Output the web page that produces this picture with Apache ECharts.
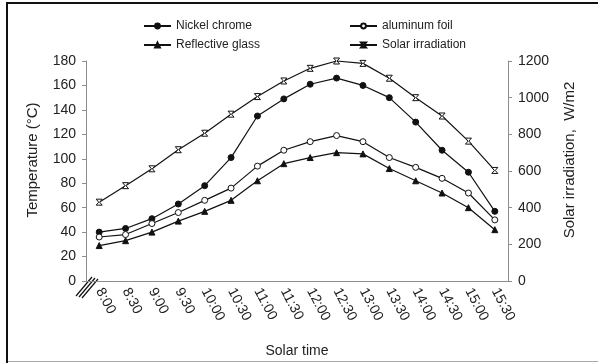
<!DOCTYPE html>
<html>
<head>
<meta charset="utf-8">
<script src="https://cdn.jsdelivr.net/npm/echarts@6/dist/echarts.min.js"></script>
<style>
  html, body { margin: 0; padding: 0; background: #fff; }
  #chart { width: 598px; height: 363px; }
</style>
</head>
<body>
<div id="chart"></div>
<script>
var times = ["8:00", "8:30", "9:00", "9:30", "10:00", "10:30", "11:00", "11:30",
  "12:00", "12:30", "13:00", "13:30", "14:00", "14:30", "15:00", "15:30"];
var nickelChrome = [40, 43, 51, 63, 78, 101, 135, 149, 161, 166, 160, 150, 130, 107, 89, 57];
var aluminumFoil = [36, 38, 47, 56, 66, 76, 94, 107, 114, 119, 114, 101, 93, 84, 72, 50];
var reflectiveGlass = [29, 33, 40, 49, 57, 66, 82, 96, 101, 105, 104, 92, 82, 72, 60, 42];
var solarIrradiation = [430, 520, 612, 716, 806, 910, 1006, 1091, 1160, 1200, 1187, 1106, 1000, 900, 763, 603];

var font = "Liberation Sans";
var axisGrey = "#8c8c8c";
var textCol = "#222";

var chart = echarts.init(document.getElementById("chart"));

function lineSeries(name, data, symbol, fill, yIndex) {
  return {
    name: name,
    type: "line",
    yAxisIndex: yIndex || 0,
    data: data,
    symbol: symbol,
    symbolSize: 6,
    showAllSymbol: true,
    clip: false,
    animation: false,
    lineStyle: { color: "#111", width: 1.2 },
    itemStyle: { color: fill, borderColor: "#111", borderWidth: 1 }
  };
}

var legendStyle = {
  orient: "vertical",
  top: 15,
  itemWidth: 27,
  itemHeight: 6,
  itemGap: 7,
  textStyle: { fontFamily: font, fontSize: 12, color: textCol }
};

chart.setOption({
  animation: false,
  grid: { left: 86, right: 90, top: 61, bottom: 81 },
  legend: [
    Object.assign({ left: 138, data: ["Nickel chrome", "Reflective glass"] }, legendStyle),
    Object.assign({ left: 344, data: ["aluminum foil", "Solar irradiation"] }, legendStyle)
  ],
  xAxis: {
    type: "category",
    data: times,
    boundaryGap: true,
    name: "Solar time",
    nameLocation: "middle",
    nameGap: 63,
    nameTextStyle: { fontFamily: font, fontSize: 14, color: textCol },
    axisLine: { lineStyle: { color: axisGrey, width: 1 } },
    axisTick: { alignWithLabel: true, length: 4, lineStyle: { color: axisGrey } },
    axisLabel: { rotate: -62, interval: 0, margin: 8, fontFamily: font, fontSize: 14, color: textCol }
  },
  yAxis: [
    {
      type: "value",
      min: 0,
      max: 180,
      interval: 20,
      name: "Temperature (°C)",
      nameLocation: "middle",
      nameRotate: 90,
      nameGap: 46,
      nameTextStyle: { fontFamily: font, fontSize: 15, color: textCol, padding: [0, 0, 0, 22] },
      splitLine: { show: false },
      axisLine: { show: true, lineStyle: { color: axisGrey, width: 1 } },
      axisTick: { show: true, length: 4, lineStyle: { color: axisGrey } },
      axisLabel: { margin: 10, fontFamily: font, fontSize: 14, color: textCol }
    },
    {
      type: "value",
      position: "right",
      min: 0,
      max: 1200,
      interval: 200,
      name: "Solar irradiation,  W/m2",
      nameLocation: "middle",
      nameRotate: 90,
      nameGap: 54,
      nameTextStyle: { fontFamily: font, fontSize: 15, color: textCol, padding: [0, 0, 0, 22] },
      splitLine: { show: false },
      axisLine: { show: true, lineStyle: { color: axisGrey, width: 1 } },
      axisTick: { show: true, length: 4, lineStyle: { color: axisGrey } },
      axisLabel: {
        margin: 10, fontFamily: font, fontSize: 14, color: textCol,
        formatter: function (v) { return String(v); }
      }
    }
  ],
  series: [
    lineSeries("Nickel chrome", nickelChrome, "circle", "#111"),
    lineSeries("aluminum foil", aluminumFoil, "circle", "#fff"),
    lineSeries("Reflective glass", reflectiveGlass, "triangle", "#111"),
    lineSeries("Solar irradiation", solarIrradiation,
      "path://M0,0L10,0L5.8,5L10,10L0,10L4.2,5Z", "#fff", 1)
  ],
  graphic: [
    // frame
    { type: "rect", shape: { x: 6, y: 2, width: 2, height: 361 }, style: { fill: "#111" } },
    { type: "rect", shape: { x: 6, y: 2, width: 592, height: 2 }, style: { fill: "#111" } },
    { type: "line", shape: { x1: 8, y1: 361.5, x2: 598, y2: 361.5 }, style: { stroke: "#aaa", lineWidth: 1 } },
    // axis break marks
    { type: "line", shape: { x1: 76, y1: 296, x2: 92, y2: 277 }, style: { stroke: "#111", lineWidth: 1.2 } },
    { type: "line", shape: { x1: 79, y1: 297, x2: 95, y2: 278 }, style: { stroke: "#111", lineWidth: 1.2 } },
    { type: "line", shape: { x1: 82, y1: 298, x2: 98, y2: 279 }, style: { stroke: "#111", lineWidth: 1.2 } }
  ]
});
</script>
</body>
</html>
